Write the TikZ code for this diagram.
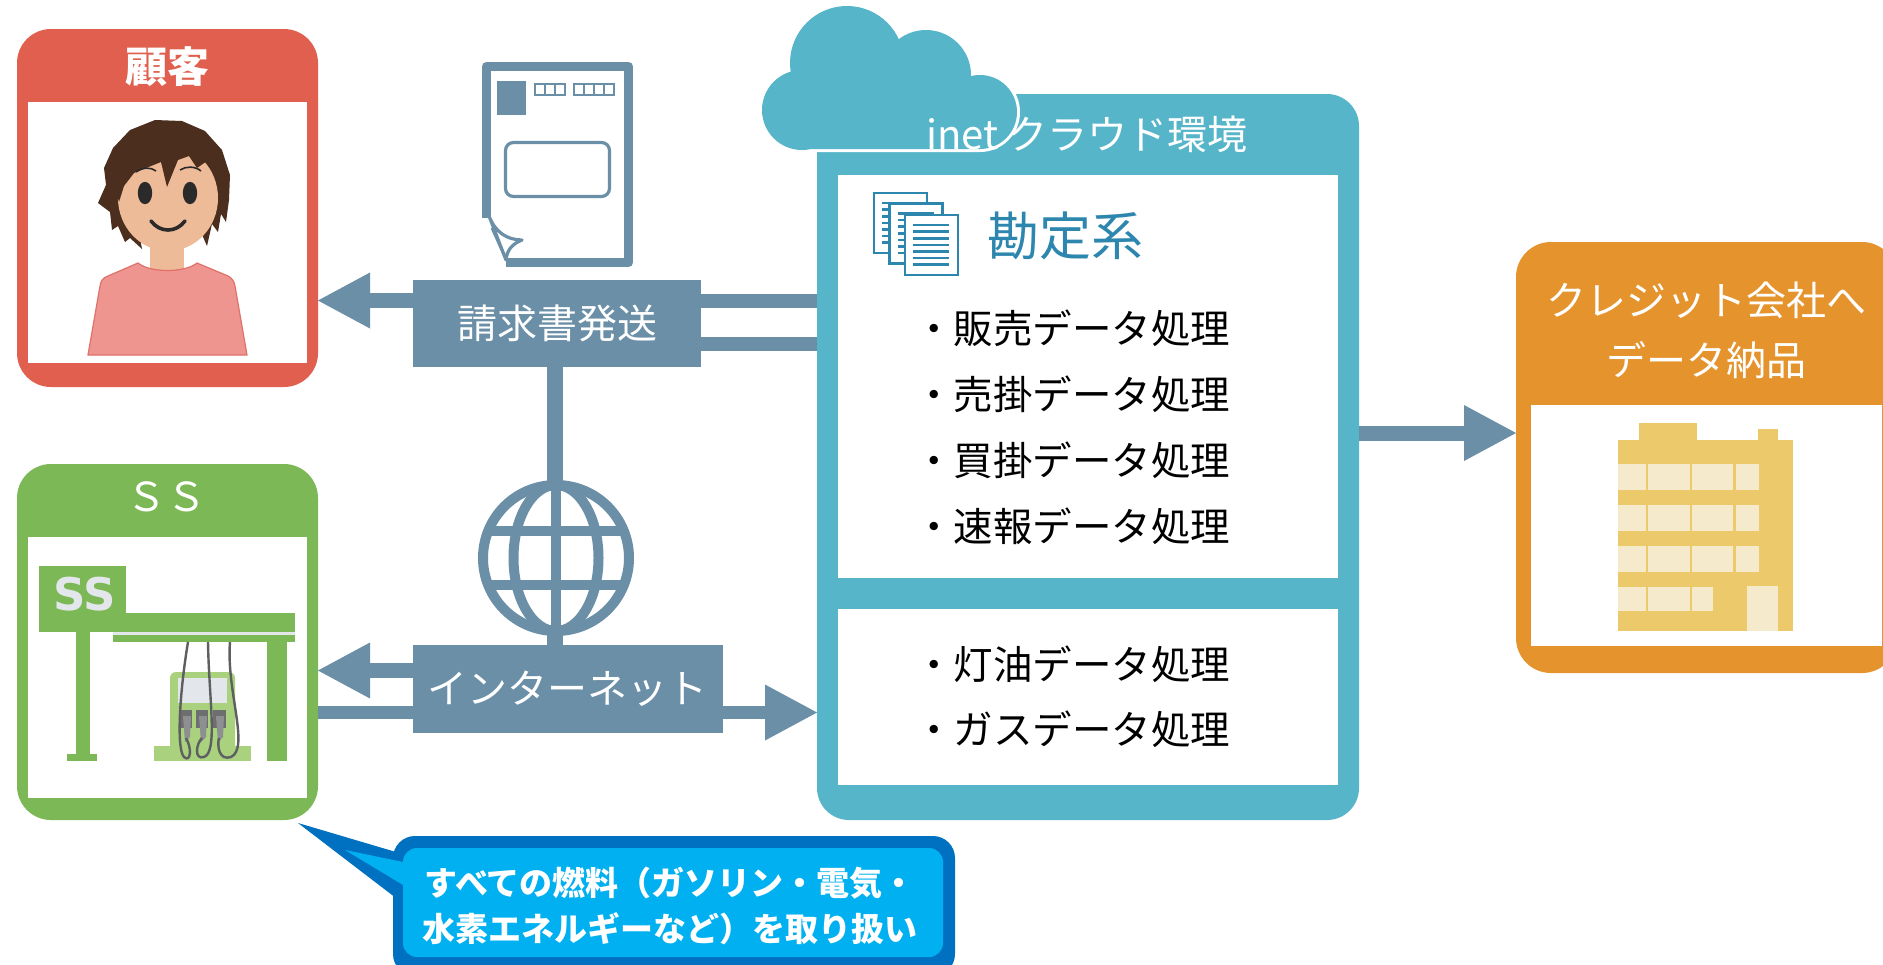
\documentclass[tikz,border=0pt]{standalone}
\usepackage{fontspec}
\setmainfont{Noto Sans CJK JP}
\newfontfamily\signfont{DejaVu Sans}
\usetikzlibrary{arrows.meta}

\definecolor{custred}{HTML}{E05F4E}
\definecolor{ssgreen}{HTML}{7CB855}
\definecolor{pumpgreen}{HTML}{A9D17E}
\definecolor{cloudteal}{HTML}{56B5C9}
\definecolor{slate}{HTML}{6A8FA6}
\definecolor{creditorange}{HTML}{E4932D}
\definecolor{kanjoblue}{HTML}{2C86AE}
\definecolor{bldgold}{HTML}{ECC96B}
\definecolor{bldlight}{HTML}{F5EACB}
\definecolor{bubbleouter}{HTML}{0070C0}
\definecolor{bubbleinner}{HTML}{00B0F0}
\definecolor{hair}{HTML}{4B2E1E}
\definecolor{skin}{HTML}{EEBB98}
\definecolor{shirt}{HTML}{EF9590}
\definecolor{shirtline}{HTML}{E0706A}
\definecolor{eyedark}{HTML}{2A2A2A}
\definecolor{lightgray}{HTML}{E3E7EB}
\definecolor{hose}{HTML}{5E5F61}
\definecolor{nozzle}{HTML}{6D6E70}
\definecolor{handle}{HTML}{8E8F91}

\begin{document}
\begin{tikzpicture}[x=0.5pt,y=-0.5pt,
  panel/.style={inner sep=0pt, outer sep=0pt},
  boxtitle/.style={text=white, inner sep=0pt, font=\fontsize{20pt}{24pt}\selectfont},
  flowlabel/.style={fill=slate, text=white, inner sep=0pt, outer sep=0pt, font=\fontsize{20pt}{24pt}\selectfont},
  listitem/.style={anchor=west, inner sep=0pt, font=\fontsize{19.75pt}{24pt}\selectfont},
  blockarrow/.style={draw=slate, line width=7.5pt, -{Triangle[length=26pt,width=28pt,line width=0pt]}},
  linkbar/.style={draw=slate, line width=7pt},
  globeline/.style={draw=slate, line width=5pt}]
\clip (0,0) rectangle (1883,964);
\fill[white] (0,0) rectangle (1883,964);

% ---------- customer panel ----------
\node[panel, fill=custred, rounded corners=17pt, minimum width=150.5pt, minimum height=179pt] (cust) at (167.5,208) {};
\node[panel, fill=white, minimum width=139.5pt, minimum height=130.5pt] (custpic) at (167.5,232.5) {};
\node[boxtitle, font=\fontsize{21pt}{24pt}\selectfont\bfseries] (custtitle) at (167.5,67) {顧客};

% person
\fill[skin] (150,236) rectangle (184,272);
\filldraw[fill=shirt, draw=shirtline, line width=0.6pt]
  (88,355) -- (100,286) .. controls (101,280) and (103,278) .. (108,276) -- (138,263)
  .. controls (150,273) and (185,273) .. (197,263) -- (228,276)
  .. controls (232,278) and (234,281) .. (235,286) -- (247,355) -- cycle;
\fill[hair] (98,203) -- (106,185) -- (104,168) -- (113,148) -- (130,130) -- (155,120)
  -- (182,121) -- (205,131) -- (222,150) -- (230,175) -- (229,200) -- (226,222)
  -- (221,214) -- (218,232) -- (212,224) -- (207,246) -- (200,230) -- (168,235)
  -- (140,238) -- (142,249) -- (130,238) -- (125,242) -- (118,226) -- (112,230)
  -- (110,212) -- cycle;
\fill[skin] (168,198) ellipse [x radius=25pt, y radius=26.5pt];
\fill[hair] (113,178) -- (117,156) -- (133,136) -- (160,127) -- (190,130) -- (211,144)
  -- (222,164) -- (223,186) -- (214,172) -- (207,161) -- (197,168) -- (189,156)
  -- (178,160) -- (167,187) -- (161,162) -- (146,168) -- (134,173) -- (124,186)
  -- (119,202) -- cycle;
\draw[eyedark, line width=0.8pt] (136,172) .. controls (143,167) and (151,167) .. (156,171);
\draw[eyedark, line width=0.8pt] (180,170) .. controls (186,166) and (195,166) .. (201,171);
\fill[eyedark] (145,193) ellipse [x radius=3.6pt, y radius=5.6pt];
\fill[eyedark] (190,193) ellipse [x radius=3.6pt, y radius=5.6pt];
\draw[eyedark, line width=1.8pt, line cap=round] (151,221) .. controls (160,233) and (176,233) .. (185,221);

% ---------- service station panel ----------
\node[panel, fill=ssgreen, rounded corners=17pt, minimum width=150.5pt, minimum height=178pt] (ss) at (167.5,642) {};
\node[panel, fill=white, minimum width=139.5pt, minimum height=130.5pt] (sspic) at (167.5,667.5) {};
\node[boxtitle] (sstitle) at (166.5,497) {ＳＳ};

% station canopy, sign and poles
\fill[ssgreen] (39,566) rectangle (126,632);
\node[inner sep=0pt, text=lightgray, font=\signfont\bfseries\fontsize{22.5pt}{26pt}\selectfont] (signtext) at (84.5,594) {SS};
\fill[ssgreen] (126,613) rectangle (295,632);
\fill[lightgray] (113,632) rectangle (295,635);
\fill[ssgreen] (113,635) rectangle (295,642);
\fill[ssgreen] (76,632) rectangle (90,755);
\fill[ssgreen] (67,754) rectangle (97,761);
\fill[ssgreen] (267,642) rectangle (287,761);
% pump
\fill[pumpgreen, rounded corners=3pt] (170,672) rectangle (235,752);
\fill[pumpgreen] (154,746) rectangle (251,761);
\fill[lightgray] (178,678) rectangle (227,703);
\fill[nozzle] (180,710) rectangle (192,728);
\fill[nozzle] (196,710) rectangle (208,728);
\fill[nozzle] (213,710) rectangle (226,728);
\fill[handle] (183,716) -- (191,716) -- (190,737) -- (185,742) -- cycle;
\fill[handle] (199,716) -- (207,716) -- (206,737) -- (201,742) -- cycle;
\fill[handle] (216,716) -- (224,716) -- (223,737) -- (218,742) -- cycle;
\draw[hose, line width=1.2pt] (188,642) .. controls (180,690) and (176,748) .. (184,757) .. controls (191,763) and (192,748) .. (186,738);
\draw[hose, line width=1.2pt] (208,642) .. controls (209,700) and (218,752) .. (204,757) .. controls (194,760) and (196,744) .. (202,738);
\draw[hose, line width=1.2pt] (230,642) .. controls (226,690) and (250,748) .. (231,757) .. controls (219,761) and (217,746) .. (219,738);

% ---------- cloud environment panel ----------
\node[panel, fill=cloudteal, rounded corners=16pt, minimum width=271pt, minimum height=363pt] (cloudbox) at (1088,457) {};
\node[panel, fill=white, minimum width=250pt, minimum height=201.5pt] (kanjo) at (1088,376.5) {};
\node[panel, fill=white, minimum width=250pt, minimum height=88pt] (fuel) at (1088,697) {};
% cloud with a thin white rim
\fill[white] (802,110) circle (21.5pt) (847,63) circle (30pt) (926,75) circle (24pt)
  (980,112) circle (20pt) (802,100) rectangle (980,152);
\fill[cloudteal] (802,110) circle (20pt) (847,63) circle (28.5pt) (926,75) circle (22.5pt)
  (980,112) circle (18.5pt) (802,100) rectangle (980,149);
\node[boxtitle] (cloudtitle) at (1087,134) {inet クラウド環境};

% stacked documents icon
\foreach \dx/\dy in {0/0, 15.5/10.5, 31/22} {
  \draw[kanjoblue, line width=1.4pt, fill=white] (874+\dx,193+\dy) rectangle ++(53,60);
  \foreach \k in {0,...,6}
    \draw[kanjoblue, line width=1.3pt] (882+\dx,203+\dy+6.6*\k) -- ++(36,0);
}
\node[inner sep=0pt, text=kanjoblue, font=\fontsize{26pt}{30pt}\selectfont] (kanjotitle) at (1065,236) {勘定系};
\node[listitem] (k1) at (914,328) {・販売データ処理};
\node[listitem] (k2) at (914,394) {・売掛データ処理};
\node[listitem] (k3) at (914,460) {・買掛データ処理};
\node[listitem] (k4) at (914,526) {・速報データ処理};
\node[listitem] (f1) at (914,664) {・灯油データ処理};
\node[listitem] (f2) at (914,729) {・ガスデータ処理};

% ---------- credit company panel ----------
\node[panel, fill=creditorange, rounded corners=17.5pt, minimum width=190.5pt, minimum height=215.5pt] (credit) at (1706.5,457.5) {};
\node[panel, fill=white, minimum width=175.5pt, minimum height=120.5pt] (creditpic) at (1706.5,525.5) {};
\node[boxtitle, align=center, font=\fontsize{20pt}{30pt}\selectfont] (credittitle) at (1706.5,330) {クレジット会社へ\\データ納品};
% office building
\fill[bldgold] (1618,440) rectangle (1793,631);
\fill[bldgold] (1639,423) rectangle (1697,441);
\fill[bldgold] (1758,429) rectangle (1778,441);
\foreach \ya/\yb in {464/490, 505/531, 546/572}
  \foreach \xa/\xb in {1618/1646, 1648/1690, 1692/1733, 1736/1759}
    \fill[bldlight] (\xa,\ya) rectangle (\xb,\yb);
\foreach \xa/\xb in {1618/1646, 1648/1690, 1692/1713}
  \fill[bldlight] (\xa,587) rectangle (\xb,611);
\fill[bldlight] (1747,586) rectangle (1778,631);

% ---------- invoice sheet icon ----------
\draw[slate, line width=4.5pt, line join=round] (486.5,218) -- (486.5,66.5) -- (628.5,66.5) -- (628.5,262.5) -- (506,262.5);
\filldraw[draw=slate, fill=white, line width=1.6pt, line join=round] (489,216) .. controls (495,232) and (507,240) .. (522,240)
  .. controls (512,244) and (507,250) .. (506,260) -- cycle;
\draw[slate, line width=1.4pt] (492,228) -- (505,257);
\fill[slate] (497,81) rectangle (526,115);
\fill[slate] (534,83) rectangle (566,96);
\fill[slate] (573,83) rectangle (615,96);
\foreach \x in {536,546,556} \fill[white] (\x,85) rectangle ++(8,9);
\foreach \x in {575,585,595,605} \fill[white] (\x,85) rectangle ++(8,9);
\draw[slate, line width=1.6pt, rounded corners=4pt] (505.5,142.5) rectangle (609.5,196.5);

% ---------- flow labels and connectors ----------
\node[flowlabel, minimum width=144pt, minimum height=43.5pt] (bill) at (557,323.5) {請求書発送};
\node[flowlabel, minimum width=155.25pt, minimum height=44pt] (inet) at (567.75,689) {インターネット};

\coordinate (lvlbill) at (0,300.5);
\coordinate (lvlbarA) at (0,301);
\coordinate (lvlbarB) at (0,344);
\coordinate (lvlinet) at (0,670.5);
\coordinate (lvlsend) at (0,712.5);
\coordinate (lvlcredit) at (0,433);
\coordinate (stalk) at (555,0);

\draw[blockarrow] (bill.west |- lvlbill) -- (cust.east |- lvlbill);
\draw[linkbar] (bill.east |- lvlbarA) -- (cloudbox.west |- lvlbarA);
\draw[linkbar] (bill.east |- lvlbarB) -- (cloudbox.west |- lvlbarB);
\draw[linkbar, line width=8pt] (bill.south -| stalk) -- (inet.north -| stalk);
\draw[blockarrow] (inet.west |- lvlinet) -- (ss.east |- lvlinet);
\draw[linkbar, line width=6.5pt] (ss.east |- lvlsend) -- (inet.west |- lvlsend);
\draw[blockarrow, line width=6.5pt] (inet.east |- lvlsend) -- (cloudbox.west |- lvlsend);
\draw[blockarrow] (cloudbox.east |- lvlcredit) -- (credit.west |- lvlcredit);

% globe
\node[circle, draw=slate, line width=5pt, fill=white, minimum size=73pt, inner sep=0pt] (globe) at (556,558) {};
\begin{scope}
  \clip (globe.center) circle (36.5pt);
  \draw[globeline] (globe.center) ellipse [x radius=21.25pt, y radius=36.5pt];
  \draw[globeline] (globe.north) -- (globe.south);
  \draw[globeline] (globe.center) ++(-80,-27) -- ++(160,0);
  \draw[globeline] (globe.center) ++(-80,27) -- ++(160,0);
\end{scope}

% ---------- note bubble ----------
\fill[bubbleouter, rounded corners=11pt] (393,836) rectangle (955,976);
\fill[bubbleouter] (396,852) -- (298,823) -- (396,898) -- cycle;
\fill[bubbleinner, rounded corners=7pt] (403,848) rectangle (943,957);
\fill[bubbleinner] (408,863) -- (345,850) -- (408,888) -- cycle;
\node[inner sep=0pt, text=white, align=center, font=\fontsize{16.5pt}{23pt}\selectfont\bfseries] (note) at (670,906)
  {すべての燃料（ガソリン・電気・\\水素エネルギーなど）を取り扱い};
\end{tikzpicture}
\end{document}
